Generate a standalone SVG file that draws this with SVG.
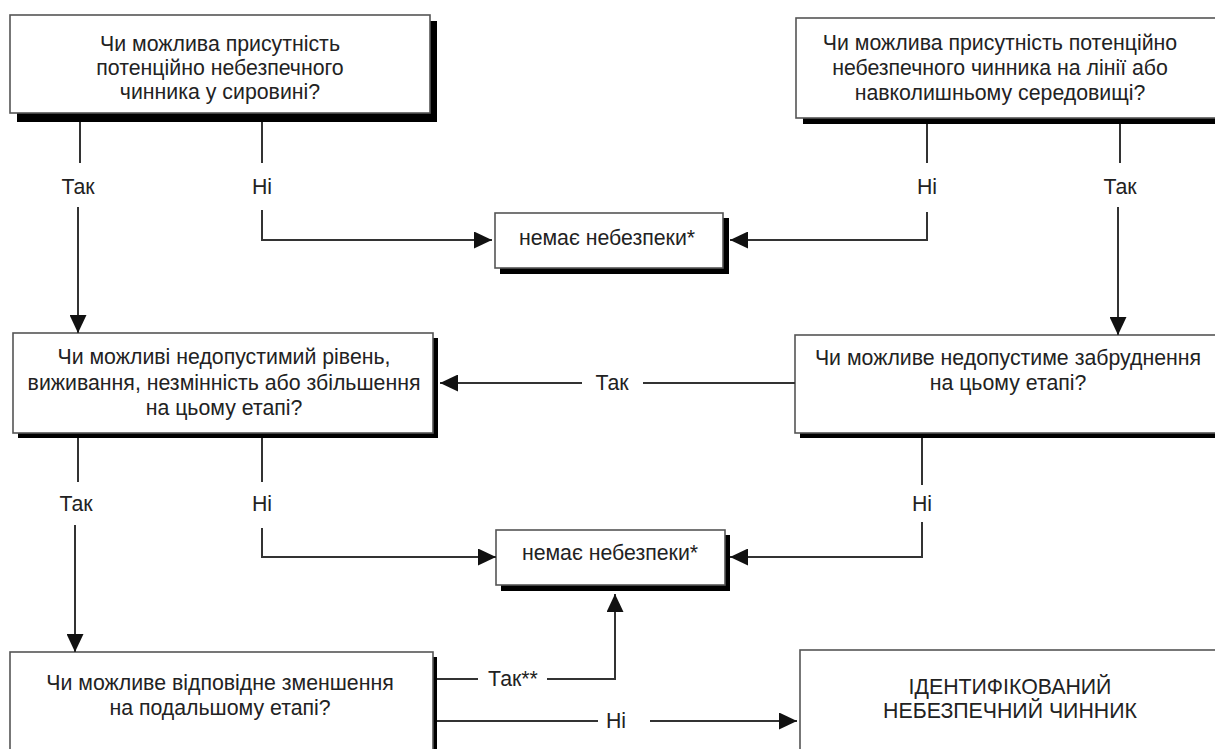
<svg xmlns="http://www.w3.org/2000/svg" width="1215" height="749" viewBox="0 0 1215 749">
<defs>
<marker id="arr" markerUnits="userSpaceOnUse" markerWidth="19" markerHeight="17" refX="18" refY="8.5" orient="auto">
<path d="M0,0 L18,8.5 L0,17 z" fill="#111"/>
</marker>
<style>
.box{fill:#fff;stroke:#555;stroke-width:1.6}
.sh{fill:#000}
.t{font-family:"Liberation Sans",Arial,sans-serif;font-size:21.3px;fill:#222;text-anchor:middle}
.ln{fill:none;stroke:#333;stroke-width:2}
</style>
</defs>
<rect width="1215" height="749" fill="#fff"/>

<g id="n1">
<rect class="sh" x="17" y="21" width="420" height="101"/>
<rect class="box" x="10" y="15" width="420" height="98"/>
<text class="t" x="220" y="51">Чи можлива присутність</text>
<text class="t" x="220" y="75">потенційно небезпечного</text>
<text class="t" x="220" y="99">чинника у сировині?</text>
</g>

<g id="n2">
<rect class="sh" x="803" y="24" width="420" height="100"/>
<rect class="box" x="796" y="18" width="425" height="100"/>
<text class="t" x="1000" y="50">Чи можлива присутність потенційно</text>
<text class="t" x="1000" y="75">небезпечного чинника на лінії або</text>
<text class="t" x="1000" y="100">навколишньому середовищі?</text>
</g>

<g id="n3">
<rect class="sh" x="500" y="218" width="229" height="56"/>
<rect class="box" x="495" y="213" width="228" height="55"/>
<text class="t" x="607" y="245">немає небезпеки*</text>
</g>

<g id="n4">
<rect class="sh" x="18" y="338" width="420" height="100"/>
<rect class="box" x="13" y="333" width="420" height="100"/>
<text class="t" x="224" y="364">Чи можливі недопустимий рівень,</text>
<text class="t" x="224" y="390">виживання, незмінність або збільшення</text>
<text class="t" x="224" y="415">на цьому етапі?</text>
</g>

<g id="n5">
<rect class="sh" x="800" y="340" width="420" height="98"/>
<rect class="box" x="795" y="335" width="425" height="98"/>
<text class="t" x="1008" y="365">Чи можливе недопустиме забруднення</text>
<text class="t" x="1008" y="390">на цьому етапі?</text>
</g>

<g id="n6">
<rect class="sh" x="501" y="535" width="229" height="56"/>
<rect class="box" x="496" y="530" width="229" height="55"/>
<text class="t" x="610" y="560">немає небезпеки*</text>
</g>

<g id="n7">
<rect class="sh" x="15" y="657" width="422" height="100"/>
<rect class="box" x="10" y="652" width="423" height="100"/>
<text class="t" x="220" y="690">Чи можливе відповідне зменшення</text>
<text class="t" x="220" y="715">на подальшому етапі?</text>
</g>

<g id="n8">
<rect class="box" x="800" y="650" width="425" height="110"/>
<text class="t" x="1010" y="694">ІДЕНТИФІКОВАНИЙ</text>
<text class="t" x="1010" y="718">НЕБЕЗПЕЧНИЙ ЧИННИК</text>
</g>

<g id="connectors">
<path class="ln" d="M80,122 V163"/>
<path class="ln" d="M78,207 V333" marker-end="url(#arr)"/>
<text class="t" x="78" y="194">Так</text>

<path class="ln" d="M262,122 V163"/>
<path class="ln" d="M262,210 V240 H492" marker-end="url(#arr)"/>
<text class="t" x="262" y="194">Ні</text>

<path class="ln" d="M927,124 V163"/>
<path class="ln" d="M927,212 V240 H730" marker-end="url(#arr)"/>
<text class="t" x="927" y="194">Ні</text>

<path class="ln" d="M1120,124 V163"/>
<path class="ln" d="M1118,207 V335" marker-end="url(#arr)"/>
<text class="t" x="1120" y="194">Так</text>

<path class="ln" d="M795,383 H643"/>
<path class="ln" d="M582,383 H440" marker-end="url(#arr)"/>
<text class="t" x="612" y="390">Так</text>

<path class="ln" d="M78,438 V482"/>
<path class="ln" d="M75,525 V652" marker-end="url(#arr)"/>
<text class="t" x="76" y="511">Так</text>

<path class="ln" d="M262,438 V482"/>
<path class="ln" d="M262,528 V557 H496" marker-end="url(#arr)"/>
<text class="t" x="262" y="511">Ні</text>

<path class="ln" d="M922,438 V485"/>
<path class="ln" d="M922,522 V557 H730" marker-end="url(#arr)"/>
<text class="t" x="922" y="511">Ні</text>

<path class="ln" d="M437,679 H478"/>
<path class="ln" d="M547,679 H615 V594" marker-end="url(#arr)"/>
<text class="t" x="513" y="686">Так**</text>

<path class="ln" d="M437,721 H598"/>
<path class="ln" d="M650,721 H797" marker-end="url(#arr)"/>
<text class="t" x="616" y="728">Ні</text>
</g>
</svg>
